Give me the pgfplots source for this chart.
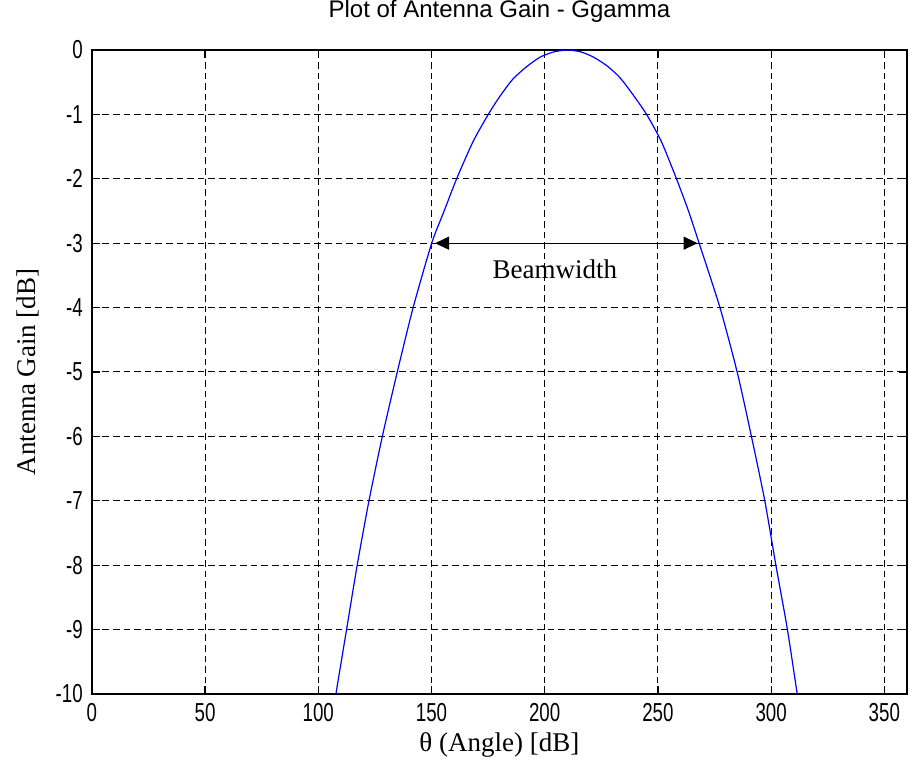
\documentclass[border=0pt]{standalone}
\usepackage{fontspec}
\setmainfont{Liberation Sans}
\newfontfamily\labelfont{Liberation Serif}
\newfontfamily\tickfont{Liberation Sans}[FakeStretch=0.72]
\usepackage{pgfplots}
\pgfplotsset{compat=1.18}
\usetikzlibrary{arrows.meta}

\begin{document}
\begin{tikzpicture}
\begin{axis}[
    at={(0,0)}, anchor=south west,
    width=407.6pt, height=322pt,
    scale only axis,
    xmin=0, xmax=360,
    ymin=-10, ymax=0,
    xtick={0,50,...,350},
    ytick={-10,-9,...,0},
    grid=major,
    major grid style={black, line width=0.5pt, dash pattern=on 3.3pt off 2pt},
    axis line style={black, line width=0.8pt},
    tick align=inside,
    major tick length=4pt,
    tick style={black, line width=0.6pt},
    /pgf/number format/assume math mode=true,
    tick label style={font=\tickfont\fontsize{13}{15}\selectfont},
    xticklabel style={yshift=-1pt},
    yticklabel style={xshift=-1pt},
    title={Plot of Antenna Gain - Ggamma},
    title style={font=\fontsize{12}{14}\selectfont, at={(rel axis cs:0.5,1)}, anchor=base, yshift=10pt},
    xlabel={θ (Angle) [dB]},
    xlabel style={font=\labelfont\fontsize{13.5}{16}\selectfont, at={(rel axis cs:0.5,0)}, anchor=base, yshift=-29pt},
    ylabel={Antenna Gain [dB]},
    ylabel style={font=\labelfont\fontsize{13.5}{16}\selectfont, at={(rel axis cs:0,0.5)}, anchor=center, yshift=32pt},
]
\addplot[color={rgb,255:red,0;green,0;blue,255}, line width=0.6pt, smooth, tension=0.4] coordinates {
(107.8,-10) (112.5,-9) (117.2,-8) (122.4,-7) (128.3,-6) (134.9,-5)
(141.9,-4) (150.1,-3) (155.6,-2.5) (161.1,-2) (168.4,-1.42) (175.1,-1)
(180.2,-0.72) (186,-0.45) (192,-0.26) (198,-0.11) (204,-0.03) (210,0)
(216,-0.03) (221.5,-0.11) (227.3,-0.24) (233,-0.42) (238.5,-0.67) (245.0,-1)
(251.5,-1.42) (258.2,-2) (263.5,-2.5) (268.2,-3) (277.4,-4) (285.0,-5)
(291.3,-6) (297.2,-7) (302.1,-8) (307.2,-9) (311.5,-10)
};
\draw[black, line width=0.6pt, {Triangle[length=7pt,width=6.5pt]}-{Triangle[length=7pt,width=6.5pt]}]
    (axis cs:151.6,-3) -- (axis cs:267.5,-3);
\node[font=\labelfont\fontsize{13.5}{16}\selectfont, anchor=center] at (axis cs:204.5,-3.40) {Beamwidth};
\end{axis}
\pgfresetboundingbox
\path (-45.9pt,-35.5pt) rectangle (409.1pt,347pt);
\end{tikzpicture}
\end{document}
